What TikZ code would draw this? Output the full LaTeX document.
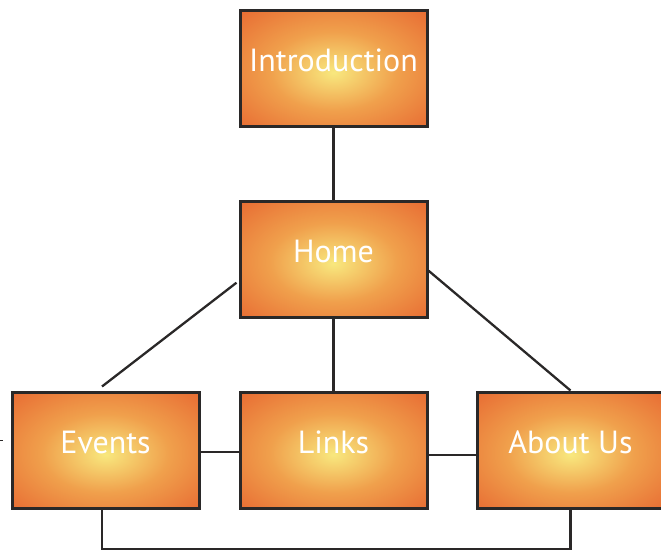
\documentclass[tikz,border=0pt]{standalone}
\usepackage{fontspec}
\setmainfont{PT Sans}
\usetikzlibrary{calc}

\definecolor{glowcore}{HTML}{F8E87E}
\definecolor{glowmid}{HTML}{F0A04C}
\definecolor{glowedge}{HTML}{E86E34}
\definecolor{edgeink}{HTML}{2A2828}

% warm radial glow, scaled to each box
\pgfdeclareradialshading{pageglow}{\pgfpoint{0bp}{-2bp}}{%
  color(0bp)=(glowcore); color(17bp)=(glowmid); color(35bp)=(glowedge); color(50bp)=(glowedge)}

\tikzset{
  pagebox/.style={draw=edgeink, line width=3pt, shading=pageglow,
    minimum width=187pt, minimum height=116pt, inner sep=0pt},
  boxtext/.style={text=white, font=\fontsize{32}{38}\selectfont, yshift=8pt},
  link/.style={draw=edgeink, line width=2.3pt}
}

\begin{document}
\begin{tikzpicture}[x=1pt, y=-1pt]
  \useasboundingbox (0,0) rectangle (661,549);
  \clip (0,0) rectangle (661,549);

  \coordinate (intropos) at (333.5,68);
  \coordinate (homepos) at (333.5,259);
  \coordinate (eventspos) at (105.5,450);
  \coordinate (linkspos) at (333.5,450);
  \coordinate (aboutpos) at (570.5,450);

  % page boxes
  \node[pagebox, label={[boxtext]center:Introduction}] (intro) at (intropos) {};
  \node[pagebox, label={[boxtext]center:Home}] (home) at (homepos) {};
  \node[pagebox, label={[boxtext]center:Events}] (events) at (eventspos) {};
  \node[pagebox, label={[boxtext]center:Links}] (links) at (linkspos) {};
  \node[pagebox, label={[boxtext]center:About Us}] (about) at (aboutpos) {};

  % site links between the pages
  \draw[link] (intro.south) -- (home.north);
  \draw[link] ([xshift=-2pt]home.194.4) -- ([xshift=-3.5pt,yshift=4pt]events.north);
  \draw[link] (home.south) -- (links.north);
  \draw[link] (home.-7.3) -- (about.north);
  \draw[link] ([yshift=-2pt]events.east) -- ([yshift=-2pt]links.west);
  \draw[link] ([yshift=-5pt]links.east) -- ([yshift=-5pt]about.west);
  \draw[link] ([xshift=-3.5pt]events.south) -- ++(0,40) -| (about.south);

  % small stray tick at the left margin
  \coordinate (tickstart) at (0,440);
  \draw[edgeink, line width=0.8pt] (tickstart) -- ++(3,0);
\end{tikzpicture}
\end{document}
